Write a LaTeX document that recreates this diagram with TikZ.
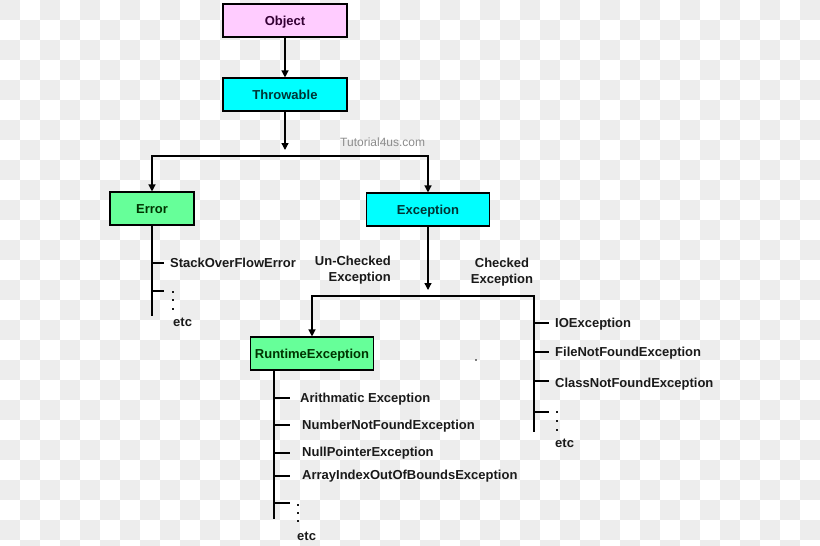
\documentclass[tikz,border=0pt]{standalone}
\usepackage{fontspec}
\setmainfont{Liberation Sans}
\usetikzlibrary{arrows.meta,calc}
\definecolor{bgsq}{HTML}{EDEDED}
\definecolor{objpink}{HTML}{FFCCFF}
\definecolor{objtxt}{HTML}{330033}
\definecolor{cyanbox}{HTML}{00FFFF}
\definecolor{cyantxt}{HTML}{003333}
\definecolor{greenbox}{HTML}{66FF99}
\definecolor{greentxt}{HTML}{003300}
\definecolor{txt}{HTML}{1A1A1A}
\definecolor{wm}{HTML}{8C8C8C}
\begin{document}
\begin{tikzpicture}[x=1pt,y=-1pt,
  box/.style={draw=black, line width=1.1pt, minimum height=33pt, inner sep=0pt,
    font=\fontsize{13}{15}\selectfont\bfseries, text height=9.4pt, text depth=0pt},
  lbl/.style={anchor=base west, inner sep=0pt, text=txt,
    font=\fontsize{13}{16}\selectfont\bfseries},
  dotmark/.style={fill=txt},
  conn/.style={line width=1.3pt, draw=black},
  arr/.style={conn, -{Triangle[length=7pt,width=7pt]}}]
\useasboundingbox (0,0) rectangle (820,546);
\clip (0,0) rectangle (820,546);
\fill[white] (0,0) rectangle (820,546);
\foreach \i in {0,...,40}{\foreach \j in {0,...,27}{%
  \pgfmathtruncatemacro\k{mod(\i+\j,2)}%
  \ifnum\k=0 \fill[bgsq] (\i*20,\j*20) rectangle ++(20,20);\fi}}

% boxes
\node[box, fill=objpink, text=objtxt, minimum width=124pt] (obj) at (285,20.5) {Object};
\node[box, fill=cyanbox, text=cyantxt, minimum width=124pt] (thr) at (285,94.5) {Throwable};
\node[box, fill=greenbox, text=greentxt, minimum width=84pt] (err) at (152,208.5) {Error};
\node[box, fill=cyanbox, text=cyantxt, minimum width=123pt] (exc) at (428,209.5) {Exception};
\node[box, fill=greenbox, text=greentxt, minimum width=123pt] (rte) at (312,353.5) {RuntimeException};

% watermark
\node[anchor=base west, inner sep=0pt, text=wm, font=\fontsize{12}{14}\selectfont] (wmk) at (340,146.5) {Tutorial4us.com};

% top connectors
\draw[arr] (obj) -- (thr);
\coordinate (thrEnd) at (285,150);
\draw[arr] (thr) -- (thrEnd);
\coordinate (bar) at (285,156);
\draw[arr] (bar) -| (err.north);
\draw[arr] (bar) -| (exc.north);

% exception split
\coordinate (excEnd) at (428,290);
\draw[arr] (exc) -- (excEnd);
\coordinate (bar2) at (428,296);
\coordinate (chkEnd) at (534,432);
\draw[arr] (bar2) -| (rte.north);
\draw[conn] (bar2) -| (chkEnd);

% labels of the split
\node[anchor=east, align=right, inner sep=0pt, text=txt, font=\fontsize{13}{16}\selectfont\bfseries] (unchk) at (391,270) {Un-Checked\\Exception};
\node[align=center, inner sep=0pt, text=txt, font=\fontsize{13}{16}\selectfont\bfseries] (chk) at (502,272) {Checked\\Exception};

% Error tree
\coordinate (errEnd) at (152,316);
\draw[conn] (err.south) -- (errEnd);
\draw[conn] (152,263) -- (164,263);
\draw[conn] (152,291) -- (164,291);
\node[lbl] (so) at (170,267.5) {StackOverFlowError};
\foreach \yy in {292,300,309}{\fill[dotmark] (171.8,\yy-1.2) rectangle ++(2.4,2.4);}
\node[lbl] (eetc) at (173,326.5) {etc};

% Runtime tree
\coordinate (rteTop) at ($(rte.south west)+(24,0)$);
\coordinate (rteEnd) at ($(rteTop)+(0,148)$);
\draw[conn] (rteTop) -- (rteEnd);
\foreach \yy in {398,425,453,476,503}{\draw[conn] (274.5,\yy) -- (290,\yy);}
\node[lbl] (ar) at (300,402.7) {Arithmatic Exception};
\node[lbl] (nn) at (302,429.7) {NumberNotFoundException};
\node[lbl] (np) at (302,456.7) {NullPointerException};
\node[lbl] (ai) at (302,479.7) {ArrayIndexOutOfBoundsException};
\foreach \yy in {505,513,521}{\fill[dotmark] (296.8,\yy-1.2) rectangle ++(2.4,2.4);}
\node[lbl] (retc) at (297,540.5) {etc};

% Checked tree
\foreach \yy in {323,352,381,412}{\draw[conn] (534,\yy) -- (549,\yy);}
\node[lbl] (io) at (555,327) {IOException};
\node[lbl] (fnf) at (555,356) {FileNotFoundException};
\node[lbl] (cnf) at (555,387.5) {ClassNotFoundException};
\foreach \yy in {412,421,430}{\fill[dotmark] (555.8,\yy-1.2) rectangle ++(2.4,2.4);}
\node[lbl] (cetc) at (555,447.5) {etc};

% stray dot
\fill[black] (476,360) circle (0.9);
\end{tikzpicture}
\end{document}
